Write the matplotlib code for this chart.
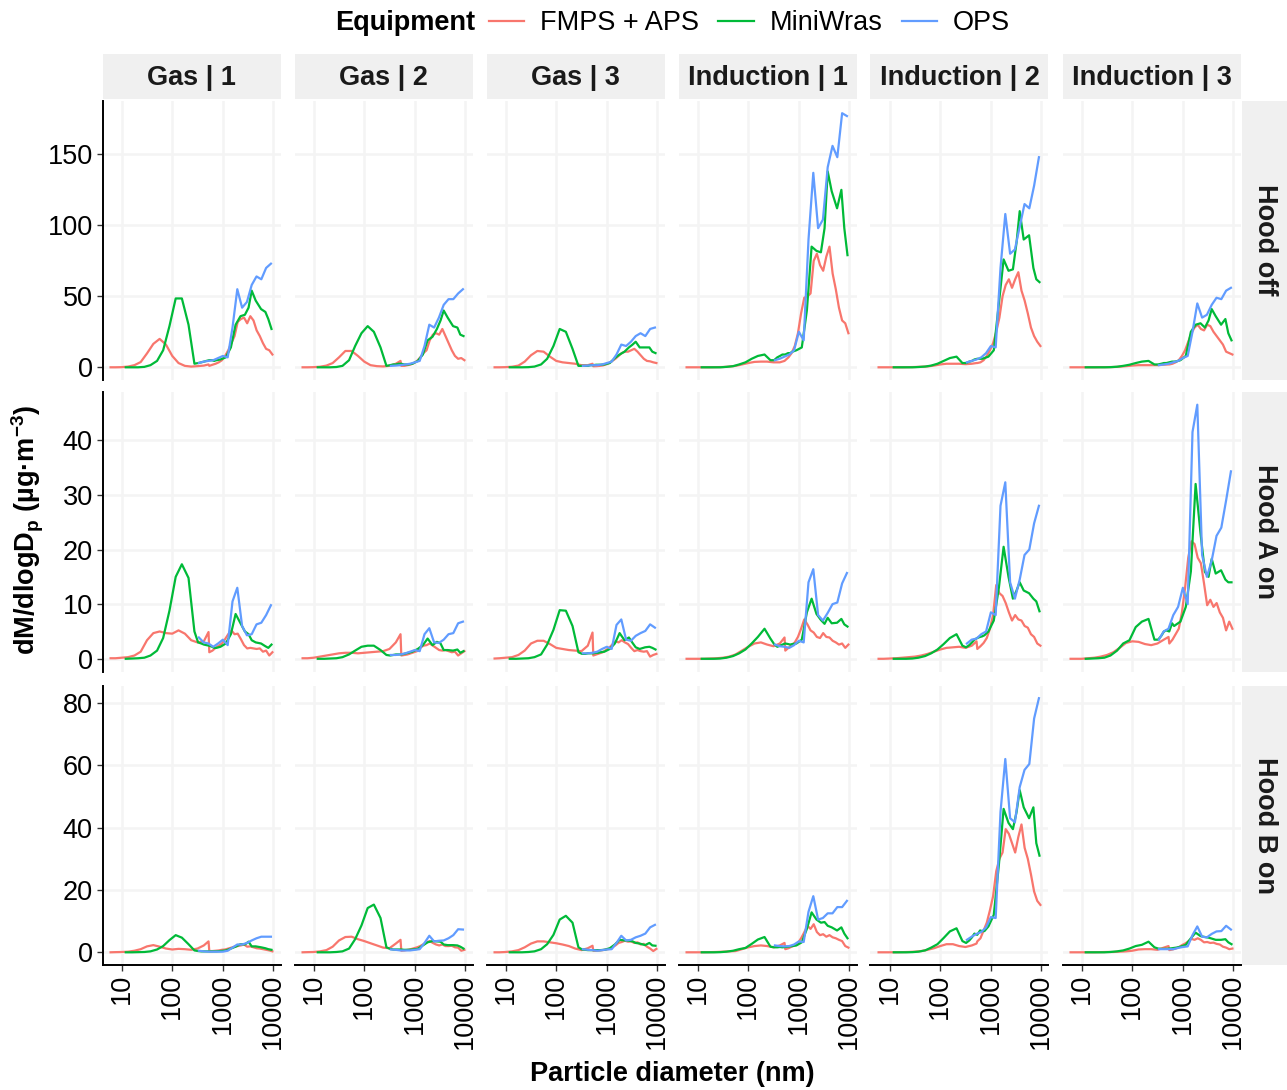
import matplotlib
matplotlib.use("Agg")
import matplotlib.pyplot as plt
import numpy as np
from matplotlib.lines import Line2D
from matplotlib.ticker import NullLocator

plt.rcParams["font.family"] = ["Liberation Sans", "DejaVu Sans"]
plt.rcParams["mathtext.fontset"] = "custom"
plt.rcParams["mathtext.rm"] = "Liberation Sans"
plt.rcParams["mathtext.bf"] = "Liberation Sans:bold"

# facet levels
stoves = ["Gas | 1", "Gas | 2", "Gas | 3", "Induction | 1", "Induction | 2", "Induction | 3"]
hoods = ["Hood off", "Hood A on", "Hood B on"]
equipment = ["FMPS + APS", "MiniWras", "OPS"]
colors = ["#F8766D", "#00BA38", "#619CFF"]

y_breaks = [[0, 50, 100, 150], [0, 10, 20, 30, 40], [0, 20, 40, 60, 80]]
x_breaks = [10, 100, 1000, 10000]

# channel mid-point diameters (nm)
d_fmps_aps = [6.0, 7.5, 10, 13.3, 17.8, 23.7, 31.6, 42.2, 56.2, 75, 100, 133, 178, 237, 316, 422, 523,
              542, 626, 723, 835, 965, 1114, 1286, 1486, 1715, 1981, 2288, 2642, 3051, 3523, 4069,
              4698, 5425, 6266, 7234, 8354, 9647]
d_miniwras = [12, 16, 21, 28, 37, 50, 66, 88, 117, 155, 210,
              275, 325, 376, 425, 475, 540, 615, 675, 750, 900, 1150, 1450, 1800, 2250, 2750, 3250,
              3750, 4500, 5750, 7000, 8000, 9250]
d_ops = [337, 419, 522, 650, 809, 1007, 1254, 1562, 1944, 2421, 3014, 3752, 4672, 5816, 7242, 9016]

# dM/dlogDp (ug/m3), one list per stove: Gas 1-3, Induction 1-3
fa_off = [
    [0, 0, 0.1, 0.5, 1.5, 3.7, 9.8, 16.5, 20, 16, 8, 3, 1, 0.5, 0.8, 1.2, 2,
     1.0, 1.8, 2.5, 3.5, 5, 8, 12, 17, 22, 32, 34, 35, 31, 36, 33, 26, 22, 17, 13, 12, 9],
    [0, 0, 0.1, 0.4, 1.2, 3, 7, 11.5, 11.5, 8, 4, 1.5, 0.8, 0.6, 1.0, 2.5, 4.5,
     1.0, 1.0, 1.5, 2, 3, 4.5, 7, 10, 12, 19, 23, 24, 23, 27, 22, 17, 12, 8, 6, 6.5, 5],
    [0, 0, 0.1, 0.4, 1.2, 4, 8.5, 11.5, 11, 7.5, 4.5, 3.5, 3, 2.5, 1.5, 1.5, 2.5,
     0.7, 0.8, 1.0, 1.3, 2, 3, 4.5, 6, 8, 10, 11, 11, 12, 13, 11, 8.5, 6, 4.5, 4.2, 3.5, 3],
    [0, 0, 0, 0, 0, 0.1, 0.2, 0.5, 1, 2, 3, 3.8, 4, 4, 3.5, 3.5, 4.5,
     5, 7, 10, 15, 24, 38, 49, 50, 52, 75, 80, 72, 68, 78, 85, 66, 55, 42, 33, 31, 24],
    [0, 0, 0, 0, 0, 0.1, 0.2, 0.4, 0.6, 1.2, 2, 2.5, 2.5, 2.5, 2.2, 2.5, 3,
     3, 3.5, 5, 8, 12, 17, 25, 35, 50, 58, 62, 56, 62, 67, 54, 47, 38, 28, 22, 18, 15],
    [0, 0, 0, 0, 0, 0.1, 0.1, 0.2, 0.4, 0.8, 1.2, 1.5, 1.5, 1.5, 1.5, 1.8, 2,
     2, 2.5, 3.5, 5, 8, 12, 18, 24, 28, 30, 27, 26, 30, 29, 25, 22, 19, 16, 11, 10, 9],
]
mw_off = [
    [0, 0, 0, 0.3, 1.5, 4.5, 12, 29, 48.5, 48.5, 30,
     2.5, 3, 3.5, 4, 4.5, 5, 5, 4.5, 5, 5.5, 7, 14, 30, 36, 37, 42, 54, 47, 41, 39, 34, 27],
    [0, 0, 0, 0.2, 1, 5, 15, 24, 29, 25, 14,
     1, 1.5, 2, 2, 2.5, 2.5, 2, 2, 2, 2.5, 4.5, 9, 19, 21.5, 27, 33, 40, 35, 29, 28, 23, 22],
    [0, 0, 0, 0.1, 0.5, 2, 6, 15, 27, 25, 13,
     1, 1, 1, 1, 1.5, 1.5, 1.8, 1.8, 1.8, 2, 3, 6.5, 9, 11, 14, 16, 18, 14, 14, 14, 11, 10],
    [0, 0, 0, 0, 0.3, 0.8, 2, 3.5, 6, 8, 9,
     5, 5, 7, 8, 9, 9, 10, 10, 11, 12, 14, 40, 85, 82, 81, 98, 138, 124, 112, 125, 98, 79],
    [0, 0, 0, 0, 0.2, 0.5, 1.2, 2.5, 4.5, 6.5, 7.5,
     3, 3, 4, 4.5, 5.5, 6, 6, 6, 6.5, 7.5, 12, 45, 76, 68, 69, 88, 110, 90, 93, 70, 62, 60],
    [0, 0, 0, 0, 0.1, 0.4, 1, 1.8, 3, 4, 4.5,
     2, 2, 2.5, 3, 3, 3.5, 4, 4, 4.2, 5, 8, 25, 30, 31, 28, 33, 41, 36, 30, 34, 24, 19],
]
ops_off = [
    [3, 4, 4.5, 5, 6.5, 8, 7, 28, 55, 42, 46, 58, 64, 62, 70, 73],
    [1, 1.2, 1.5, 2, 2.5, 3.5, 4.5, 15, 30, 28, 35, 44, 48, 48, 52, 55],
    [1, 1.2, 1.5, 1.5, 2, 3, 4, 9, 16, 15, 18, 22, 24, 22, 27, 28],
    [5, 6, 7.5, 9, 12, 25, 19, 90, 137, 98, 104, 141, 156, 148, 179, 177],
    [3.5, 4.5, 5.5, 7, 10, 15, 14, 70, 108, 80, 83, 99, 115, 112, 128, 148],
    [1.5, 2, 2.5, 3.5, 4.5, 6.5, 8, 25, 45, 35, 37, 44, 49, 48, 54, 56],
]

fa_hood_a = [
    [0.1, 0.1, 0.2, 0.3, 0.6, 1.3, 3.4, 4.7, 5.0, 4.7, 4.6, 5.2, 4.6, 3.4, 3.0, 3.2, 4.9,
     1.2, 1.5, 2.0, 2.4, 2.8, 3.6, 4.5, 5.2, 4.5, 4.6, 3.6, 2.5, 1.9, 2.0, 1.9, 1.8, 1.9, 1.3, 1.5, 0.6, 1.2],
    [0.1, 0.1, 0.2, 0.4, 0.6, 0.8, 1.0, 1.1, 1.1, 1.0, 1.1, 1.2, 1.3, 1.4, 1.8, 3.0, 4.5,
     0.6, 0.7, 0.8, 1.0, 1.2, 1.4, 2.0, 2.4, 2.5, 2.8, 2.4, 2.0, 1.6, 1.5, 1.6, 1.4, 1.2, 1.3, 0.6, 1.0, 1.4],
    [0.05, 0.1, 0.2, 0.3, 0.7, 1.5, 2.8, 3.3, 3.3, 2.7, 2.0, 1.8, 1.6, 1.5, 1.4, 2.4, 4.8,
     0.6, 0.8, 1.0, 1.2, 1.6, 2.0, 2.6, 3.2, 3.0, 3.4, 3.0, 2.7, 2.0, 1.4, 1.6, 1.4, 1.3, 1.4, 0.4, 0.7, 0.9],
    [0, 0, 0, 0, 0.05, 0.1, 0.2, 0.4, 0.8, 1.5, 2.2, 2.8, 3.0, 2.6, 2.3, 2.8, 3.9,
     1.5, 2.0, 2.5, 3.0, 4.0, 5.5, 7.2, 6.3, 5.2, 4.8, 4.0, 3.8, 4.7, 4.0, 3.9, 3.3, 3.0, 2.6, 2.8, 2.0, 2.6],
    [0, 0, 0.05, 0.1, 0.2, 0.3, 0.4, 0.6, 0.9, 1.3, 1.7, 2.0, 2.1, 2.2, 2.0, 2.4, 3.2,
     1.8, 2.3, 2.9, 3.8, 5.5, 8, 13.5, 12, 11.5, 10.2, 8.5, 7.0, 8.0, 7.2, 7.0, 6.0, 5.7, 4.5, 4.0, 2.8, 2.4],
    [0, 0, 0, 0.1, 0.2, 0.4, 0.7, 1.2, 2.0, 2.9, 3.2, 3.1, 2.7, 2.5, 2.8, 3.5, 4.0,
     2.8, 3.5, 4.5, 5.5, 8.5, 13, 18.5, 21.5, 21, 18.5, 17.5, 13.8, 9.8, 10.8, 9.5, 10.2, 8.5, 7.5, 5.2, 6.8, 5.5],
]
mw_hood_a = [
    [0, 0.05, 0.1, 0.2, 0.6, 1.5, 3.8, 8.8, 15, 17.3, 14.8,
     5.0, 3.0, 2.8, 2.6, 2.5, 2.4, 2.2, 2, 2, 2.2, 2.8, 4.5, 8.2, 6.5, 5, 4.5, 3.4, 3, 2.8, 2.3, 2.0, 2.6],
    [0, 0, 0.05, 0.1, 0.3, 0.8, 1.5, 2.2, 2.4, 2.4, 1.6,
     0.7, 0.6, 0.7, 0.8, 0.8, 0.8, 0.9, 1.0, 1.1, 1.3, 1.8, 2.5, 3.7, 2.5, 3.1, 2.8, 1.6, 1.6, 1.5, 1.7, 1.1, 1.4],
    [0, 0, 0.05, 0.1, 0.3, 0.8, 2.6, 5.3, 8.9, 8.8, 6.0,
     1.2, 0.9, 0.9, 1.0, 1.0, 1.0, 1.1, 1.1, 1.2, 1.3, 1.8, 2.8, 4.7, 3.4, 3.9, 2.9, 2.1, 1.8, 2.1, 2.2, 2.0, 1.7],
    [0, 0, 0, 0.05, 0.2, 0.5, 1.0, 1.7, 2.8, 4.0, 5.5,
     3.7, 2.7, 2.2, 2.4, 2.6, 2.8, 2.7, 2.6, 2.7, 2.8, 3.5, 8.5, 11, 8.2, 7.1, 6.4, 7.5, 6.5, 6.6, 7.3, 6.3, 5.9],
    [0, 0, 0, 0.05, 0.2, 0.5, 1.0, 1.7, 2.7, 3.8, 4.5,
     2.4, 2.1, 2.5, 3.0, 3.5, 3.8, 4.0, 4.1, 4.3, 5.0, 7.0, 13, 20.5, 15, 11, 12.5, 14, 12.5, 12, 11, 10.5, 8.7],
    [0, 0.05, 0.1, 0.2, 0.6, 1.5, 2.8, 3.4, 5.8, 6.8, 7.3,
     3.5, 3.5, 4.2, 5.0, 5.2, 5.0, 6.5, 6.0, 6.3, 6.8, 9.5, 16, 32, 23, 15.9, 15, 18.3, 15.6, 16.2, 14.5, 14, 14],
]
ops_hood_a = [
    [3.9, 3.0, 2.8, 2.2, 2.8, 3.5, 2.5, 10.5, 13, 6, 4.3, 4.5, 6.3, 6.6, 8, 9.8],
    [0.7, 0.7, 0.8, 1.0, 1.3, 1.6, 1.4, 4.5, 5.6, 3.0, 2.9, 3.5, 4.5, 4.7, 6.5, 6.8],
    [1.0, 1.0, 1.1, 1.3, 1.8, 2.2, 1.8, 6.2, 7.2, 3.5, 3.3, 4.2, 4.7, 5.1, 6.3, 5.7],
    [2.6, 2.3, 2.2, 2.0, 2.5, 3.3, 3.0, 14, 16.4, 8, 7, 8.4, 10, 10.3, 13.8, 15.7],
    [2.8, 3.5, 3.7, 4.5, 5, 8.5, 8, 28, 32.3, 14, 11, 14.5, 19, 20, 24.8, 28],
    [3.5, 5, 5.5, 8, 9.5, 13, 10, 41.5, 46.5, 19, 15, 18, 22.5, 24, 29, 34.3],
]

fa_hood_b = [
    [0, 0.05, 0.1, 0.2, 0.5, 1.0, 1.9, 2.3, 1.8, 1.2, 0.9, 1.1, 1.0, 0.8, 1.2, 2.2, 3.5,
     0.4, 0.4, 0.5, 0.6, 0.8, 0.9, 1.2, 1.5, 1.8, 2.0, 2.2, 2.5, 1.8, 1.9, 1.6, 1.3, 1.2, 1.0, 0.8, 0.6, 0.3],
    [0, 0.05, 0.1, 0.3, 0.7, 1.8, 3.8, 4.9, 5.0, 4.2, 3.6, 2.9, 2.2, 1.5, 1.3, 2.8, 4.0,
     0.5, 0.6, 0.8, 1.0, 1.3, 1.6, 2.0, 2.6, 3.2, 3.6, 3.0, 2.5, 2.2, 2.5, 2.0, 2.0, 2.1, 1.6, 1.5, 0.5, 0.8],
    [0, 0, 0.1, 0.3, 0.7, 1.6, 2.8, 3.5, 3.5, 3.2, 2.9, 2.5, 2.0, 1.2, 0.7, 1.3, 2.1,
     0.5, 0.5, 0.6, 0.7, 0.9, 1.1, 1.6, 2.2, 3.0, 3.3, 3.7, 3.4, 3.5, 3.0, 3.2, 2.5, 2.7, 1.8, 1.2, 0.4, 1.1],
    [0, 0, 0, 0, 0.05, 0.1, 0.2, 0.3, 0.4, 1.0, 1.6, 2.0, 2.2, 2.0, 1.6, 2.2, 3.0,
     1.0, 1.3, 1.8, 2.2, 3.0, 4.5, 6.4, 8.5, 7.5, 9.0, 6.5, 5.5, 5.8, 5.0, 5.5, 4.8, 4.5, 4.0, 3.6, 2.0, 1.5],
    [0, 0, 0, 0, 0.05, 0.1, 0.2, 0.4, 0.8, 1.3, 2.0, 2.6, 2.6, 2.0, 1.7, 2.2, 2.8,
     3.5, 4.5, 7.0, 9.5, 13.5, 18, 26, 30, 32, 39.5, 38, 35, 32, 37, 41, 33.5, 30, 25, 19.5, 16.5, 15.2],
    [0, 0, 0, 0, 0, 0.05, 0.1, 0.1, 0.2, 0.3, 0.5, 0.9, 1.0, 1.0, 0.8, 1.5, 2.0,
     0.7, 0.9, 1.2, 1.6, 2.3, 2.8, 3.5, 4.3, 4.0, 4.5, 4.0, 3.2, 3.3, 3.0, 3.1, 2.7, 2.5, 1.8, 1.5, 1.0, 1.2],
]
mw_hood_b = [
    [0, 0, 0.05, 0.1, 0.3, 0.9, 2.0, 3.9, 5.5, 4.7, 2.6,
     0.6, 0.4, 0.3, 0.3, 0.3, 0.3, 0.3, 0.3, 0.3, 0.4, 0.6, 1.2, 1.8, 2.6, 2.5, 3.4, 1.9, 1.9, 1.6, 1.3, 1.0, 0.8],
    [0, 0, 0, 0.1, 0.3, 1.2, 4.2, 8.6, 14.2, 15.3, 11,
     1.6, 1.1, 0.9, 0.9, 0.9, 0.9, 0.8, 0.8, 0.8, 0.9, 1.1, 2.2, 3.2, 3.6, 3.5, 3.4, 2.5, 2.3, 2.3, 2.2, 1.8, 1.2],
    [0, 0, 0, 0.1, 0.3, 1.0, 2.6, 5.6, 10.5, 11.7, 9.5,
     1.6, 0.9, 0.8, 0.7, 0.7, 0.7, 0.7, 0.7, 0.7, 0.8, 1.3, 2.5, 4.0, 3.8, 3.7, 3.5, 3.0, 2.8, 2.3, 3.0, 2.2, 2.1],
    [0, 0, 0, 0.05, 0.2, 0.5, 1.0, 1.4, 2.7, 4.1, 4.9,
     1.8, 1.6, 1.6, 1.7, 1.6, 1.7, 1.8, 1.9, 2.0, 2.2, 3.2, 7.5, 12.8, 10.5, 9.5, 9.7, 8.5, 8.0, 7.0, 8.0, 6.0, 4.5],
    [0, 0, 0, 0.05, 0.2, 0.6, 1.5, 2.6, 4.6, 6.7, 7.7,
     3.6, 3.0, 3.8, 4.8, 6.0, 5.6, 7.0, 6.8, 6.8, 8.3, 12, 28, 46, 41.5, 39.5, 45, 52, 46.5, 43, 46.5, 35, 31],
    [0, 0, 0, 0, 0.1, 0.3, 0.6, 1.2, 2.0, 2.4, 3.4,
     1.6, 1.2, 1.1, 1.1, 1.1, 1.2, 1.3, 1.4, 1.5, 1.8, 2.4, 4.5, 6.3, 5.2, 4.9, 4.7, 4.4, 4.0, 4.0, 4.2, 3.2, 2.6],
]
ops_hood_b = [
    [0.5, 0.3, 0.2, 0.2, 0.2, 0.2, 0.5, 1.5, 2.5, 2.5, 3.0, 3.8, 4.5, 5.0, 5.0, 5.0],
    [0.9, 0.8, 0.6, 0.6, 0.6, 0.8, 1.0, 3.0, 5.3, 3.5, 3.7, 3.8, 4.5, 5.5, 7.4, 7.3],
    [1.0, 0.8, 0.7, 0.5, 0.7, 0.9, 1.0, 3.0, 5.3, 3.8, 4.0, 4.8, 5.3, 6.0, 8.0, 8.8],
    [2.2, 2.0, 1.9, 2.0, 2.5, 3.5, 3.3, 13, 18, 10.5, 11, 12.5, 12.5, 14.5, 14.5, 16.5],
    [4.0, 5.0, 5.9, 6.5, 8.0, 11.3, 11, 45, 62, 43, 41.7, 53, 58.5, 60.4, 75, 81.5],
    [1.0, 1.0, 1.0, 1.0, 1.4, 1.7, 1.9, 5.5, 8.3, 5.0, 4.8, 5.9, 6.7, 6.8, 8.5, 7.3],
]

diameters = [d_fmps_aps, d_miniwras, d_ops]
series = [
    [fa_off, mw_off, ops_off],
    [fa_hood_a, mw_hood_a, ops_hood_a],
    [fa_hood_b, mw_hood_b, ops_hood_b],
]

# ---------------------------------------------------------------------------
W, H = 1287, 1090
fig = plt.figure(figsize=(W / 100, H / 100), dpi=100)


def box(x0, y0, w, h):
    """pixel box (top-left origin) -> figure fraction"""
    return [x0 / W, 1 - (y0 + h) / H, w / W, h / H]


FS = 19.5
LW = 1.6
left0, col_step, panel_w = 102.5, 192.0, 178.0
row_tops, panel_h = [100.5, 392.0, 685.5], 279.5
strip_bg = "#F0F0F0"
grid_col = "#F4F4F4"

# shared x range with 5 % padding on the log scale (like ggplot)
all_d = np.log10(np.concatenate([np.asarray(d, float) for d in diameters]))
lo, hi = all_d.min(), all_d.max()
pad = 0.05 * (hi - lo)
xlim = (10 ** (lo - pad), 10 ** (hi + pad))

for r, hood in enumerate(hoods):
    ymax = max(max(max(v) for v in inst) for inst in series[r])
    ylim = (-0.05 * ymax, 1.05 * ymax)
    for c, stove in enumerate(stoves):
        ax = fig.add_axes(box(left0 + c * col_step, row_tops[r], panel_w, panel_h))
        for k in range(3):
            ax.plot(diameters[k], series[r][k][c], color=colors[k], lw=LW,
                    solid_joinstyle="round", zorder=3 + k)
        ax.set_xscale("log")
        ax.set_xlim(*xlim)
        ax.set_ylim(*ylim)
        ax.set_xticks(x_breaks)
        ax.set_yticks(y_breaks[r])
        ax.xaxis.set_minor_locator(NullLocator())
        ax.set_xticklabels([str(b) for b in x_breaks], rotation=90, va="top", ha="center")
        ax.grid(True, which="major", color=grid_col, lw=1.8)
        ax.set_axisbelow(True)
        for s in ax.spines.values():
            s.set_visible(False)
        ax.tick_params(axis="both", length=4, width=1.0, color="#333333",
                       labelsize=FS, labelcolor="black", pad=3)
        ax.tick_params(axis="x", pad=2)
        if c == 0:
            ax.spines["left"].set_visible(True)
            ax.spines["left"].set_linewidth(1.4)
            ax.spines["left"].set_color("black")
        else:
            ax.tick_params(axis="y", left=False, labelleft=False)
        if r == len(hoods) - 1:
            ax.spines["bottom"].set_visible(True)
            ax.spines["bottom"].set_linewidth(1.4)
            ax.spines["bottom"].set_color("black")
        else:
            ax.tick_params(axis="x", bottom=False, labelbottom=False)

        # column strips
        if r == 0:
            sax = fig.add_axes(box(left0 + c * col_step, 54, panel_w, 45))
            sax.set_facecolor(strip_bg)
            sax.set_xticks([]), sax.set_yticks([])
            for s in sax.spines.values():
                s.set_visible(False)
            sax.text(0.5, 0.46, stove, ha="center", va="center", fontsize=FS,
                     fontweight="bold", color="#1A1A1A", transform=sax.transAxes)

    # row strips
    sax = fig.add_axes(box(1242, row_tops[r], 45, panel_h))
    sax.set_facecolor(strip_bg)
    sax.set_xticks([]), sax.set_yticks([])
    for s in sax.spines.values():
        s.set_visible(False)
    sax.text(0.5, 0.5, hood, ha="center", va="center", rotation=270, fontsize=FS,
             fontweight="bold", color="#1A1A1A", transform=sax.transAxes)

# axis titles
fig.text(672 / W, 1 - 1074 / H, "Particle diameter (nm)", ha="center", va="center",
         fontsize=FS, fontweight="bold")
fig.text(28 / W, 1 - 530 / H, r"dM/dlogD$_\mathbf{p}$ (µg·m$^\mathbf{-3}$)", ha="center",
         va="center", rotation=90, fontsize=FS, fontweight="bold")

# legend across the top
fig.text(475 / W, 1 - 23 / H, "Equipment", ha="right", va="center", fontsize=FS,
         fontweight="bold")
handles = [Line2D([], [], color=col, lw=LW) for col in colors]
fig.legend(handles, equipment, loc="center left", bbox_to_anchor=(489 / W, 1 - 23 / H),
           ncol=3, frameon=False, fontsize=FS, handlelength=1.3, handletextpad=0.6,
           columnspacing=0.7, borderpad=0, borderaxespad=0)

fig.savefig("out.png", dpi=100, facecolor="white")
